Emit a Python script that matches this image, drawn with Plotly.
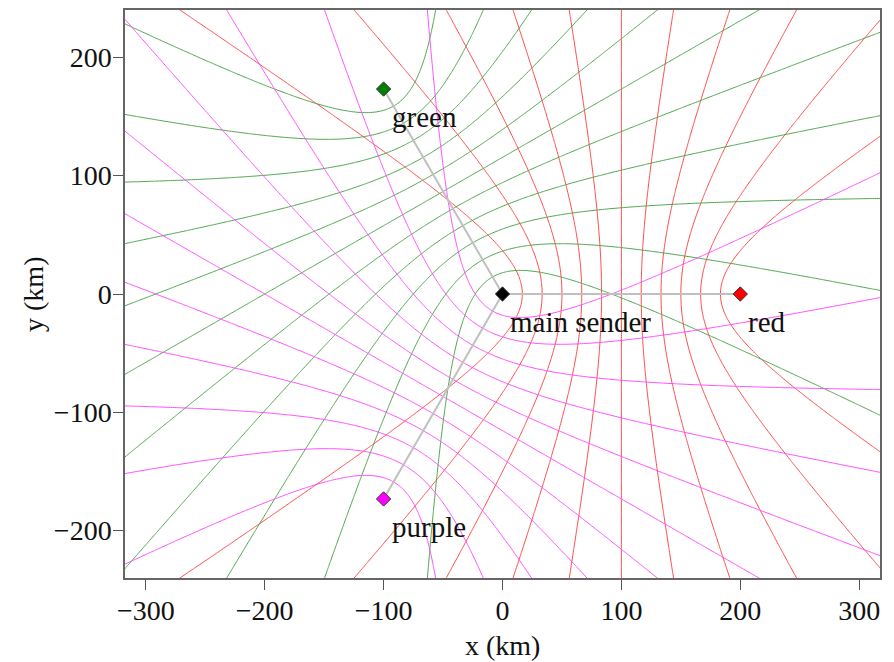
import numpy as np
import plotly.graph_objects as go

# Stations (km)
station_names = ["main sender", "red", "green", "purple"]
station_x = [0.0, 200.0, -100.0, -100.0]
station_y = [0.0, 0.0, 173.205, -173.205]
station_colors = ["#000000", "#ff0000", "#008000", "#ff00ff"]

# Hyperbola families: (slave index, line colour, width)
slave_index = [1, 2, 3]
line_colors = ["#ff4848", "#4da64d", "#ff4dff"]
line_widths = [1.0, 1.0, 1.0]
n_levels = 5          # levels k = -5..5 of baseline/6
level_divisions = 6

x_ticks = [-300, -200, -100, 0, 100, 200, 300]
y_ticks = [-200, -100, 0, 100, 200]

FONT = "Liberation Serif, Times New Roman, serif"

gx = np.arange(-320.7, 321, 1.6)
gy = np.arange(-242.3, 243, 1.6)
GX, GY = np.meshgrid(gx, gy)
d_main = np.hypot(GX - station_x[0], GY - station_y[0])

fig = go.Figure()

for si, col, lw in zip(slave_index, line_colors, line_widths):
    sx, sy = station_x[si], station_y[si]
    base = np.hypot(sx - station_x[0], sy - station_y[0])
    z = np.round(d_main - np.hypot(GX - sx, GY - sy), 3)
    step = base / level_divisions
    fig.add_trace(go.Contour(
        x=np.round(gx, 2), y=np.round(gy, 2), z=z,
        contours=dict(coloring="none", start=-n_levels * step,
                      end=n_levels * step + 1e-6, size=step, showlabels=False),
        line=dict(color=col, width=lw, smoothing=1),
        showscale=False, hoverinfo="skip",
    ))

# grey baselines from main to slaves
for si in slave_index:
    fig.add_trace(go.Scatter(
        x=[station_x[0], station_x[si]], y=[station_y[0], station_y[si]],
        mode="lines", line=dict(color="#c0c0c0", width=2),
        hoverinfo="skip", showlegend=False,
    ))

fig.add_trace(go.Scatter(
    x=station_x, y=station_y, mode="markers",
    marker=dict(symbol="diamond", size=11, color=station_colors,
                line=dict(color="#333333", width=1)),
    showlegend=False, hoverinfo="skip",
))

for name, sx, sy in zip(station_names, station_x, station_y):
    fig.add_annotation(x=sx + 5, y=sy - 24, text=name, showarrow=False,
                       xanchor="left", yanchor="middle",
                       font=dict(family=FONT, size=29, color="#111111"))

axis_common = dict(showgrid=False, zeroline=False, showline=True, mirror=True,
                   linecolor="#666666", linewidth=1.5, ticks="outside",
                   ticklen=10, tickcolor="#555555", tickwidth=1,
                   tickfont=dict(family=FONT, size=28, color="#111111"))

fig.update_layout(
    width=894, height=662,
    margin=dict(l=125, r=14, t=8, b=84),
    paper_bgcolor="white", plot_bgcolor="white",
    showlegend=False,
    xaxis=dict(range=[-317.5, 317.5], tickvals=x_ticks, ticklabelstandoff=-3, **axis_common),
    yaxis=dict(range=[-240, 240], tickvals=y_ticks, ticklabelstandoff=-4, **axis_common),
)

fig.add_annotation(xref="paper", yref="paper", x=0.5, y=-0.118, text="x (km)",
                   showarrow=False, xanchor="center", yanchor="middle",
                   font=dict(family=FONT, size=28, color="#111111"))
fig.add_annotation(xref="paper", yref="paper", x=-0.1219, y=0.5, text="y (km)",
                   showarrow=False, xanchor="center", yanchor="middle", textangle=-90,
                   font=dict(family=FONT, size=28, color="#111111"))

fig.write_html("out.html")
